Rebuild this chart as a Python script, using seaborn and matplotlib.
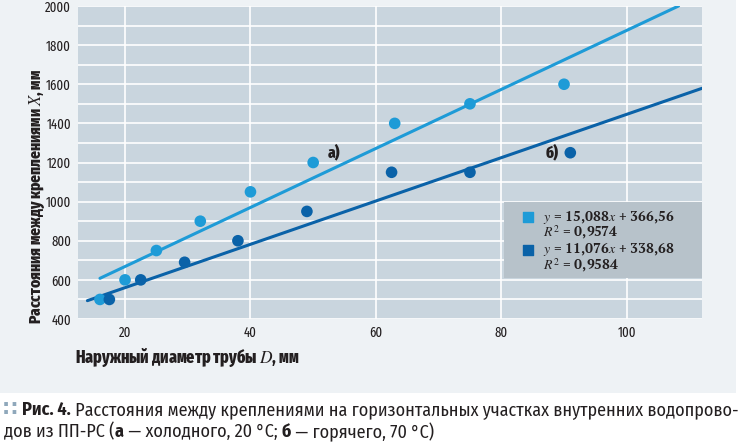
import matplotlib
matplotlib.use("Agg")
import matplotlib.pyplot as plt
from matplotlib import font_manager as fm
import seaborn as sns
import numpy as np
import pandas as pd
from matplotlib.patches import Rectangle

# ---- data ----
d_cold = [16, 20, 25, 32, 40, 50, 63, 75, 90]
x_cold = [500, 600, 750, 900, 1050, 1200, 1400, 1500, 1600]
d_hot = [17.5, 22.5, 29.5, 38, 49, 62.5, 75, 91]
x_hot = [500, 600, 690, 800, 950, 1150, 1150, 1250]
fit_cold = [15.088, 366.56]
fit_hot = [11.076, 338.68]
r2_cold = "0,9574"
r2_hot = "0,9584"
x_ticks = [20, 40, 60, 80, 100]
y_ticks = [400, 600, 800, 1000, 1200, 1400, 1600, 1800, 2000]

LIGHT = "#1e9bd7"
DARK = "#0a62a8"
PLOT_BG = "#c9d5de"
PAGE_BG = "#eef2f5"
TXT = "#231f20"

available = {f.name for f in fm.fontManager.ttflist}


def pick(prefs, default):
    return next((n for n in prefs if n in available), default)


COND = pick(["Fira Sans Condensed", "PT Sans Narrow", "Roboto Condensed",
             "Liberation Sans Narrow"], "DejaVu Sans")
XCOND = pick(["Fira Sans Extra Condensed", "Roboto Condensed", "PT Sans Narrow",
              "Fira Sans Condensed"], COND)
SERIF = pick(["PT Serif", "Liberation Serif", "DejaVu Serif"], "DejaVu Serif")

sns.set_theme(style="white")
plt.rcParams["font.family"] = [COND, "DejaVu Sans"]
plt.rcParams["mathtext.fontset"] = "stix"

fig = plt.figure(figsize=(7.46, 4.47), dpi=100)
fig.patch.set_facecolor("white")
bg = Rectangle((0, 1 - 393 / 447), 736 / 746, 393 / 447,
               transform=fig.transFigure, facecolor=PAGE_BG,
               edgecolor="none", zorder=-10)
fig.patches.append(bg)

ax = fig.add_axes([78 / 746, 1 - 319 / 447, 624 / 746, 313 / 447])
ax.set_zorder(1)
ax.set_facecolor(PLOT_BG)
for s in ax.spines.values():
    s.set_visible(False)

ax.set_xlim(12.5, 112)
ax.set_ylim(400, 2000)
ax.set_xticks(x_ticks)
ax.set_yticks(y_ticks)
ax.set_yticks(np.arange(500, 2000, 200), minor=True)
ax.grid(True, which="both", axis="y", color="white", lw=1.2)
ax.grid(True, which="major", axis="x", color="white", lw=1.2)
ax.set_axisbelow(True)
ax.tick_params(axis="both", which="both", length=0, labelsize=10, colors=TXT, pad=5,
               labelfontfamily=XCOND)

# trend lines
xc = np.linspace(16, (2000 - fit_cold[1]) / fit_cold[0], 50)
xh = np.linspace(14, 112, 50)
sns.lineplot(x=xc, y=fit_cold[0] * xc + fit_cold[1], ax=ax, color=LIGHT, lw=2.2, zorder=2)
sns.lineplot(x=xh, y=fit_hot[0] * xh + fit_hot[1], ax=ax, color=DARK, lw=2.2, zorder=2)

df_c = pd.DataFrame({"D": d_cold, "X": x_cold})
df_h = pd.DataFrame({"D": d_hot, "X": x_hot})
sns.scatterplot(data=df_c, x="D", y="X", ax=ax, color=LIGHT, s=70, edgecolor="none", zorder=3)
sns.scatterplot(data=df_h, x="D", y="X", ax=ax, color=DARK, s=70, edgecolor="none", zorder=3)

ax.set_xlabel("")
ax.set_ylabel("")

ax.text(52.3, 1250, "а)", fontsize=12, fontweight="heavy", color=TXT, va="center",
        family=[XCOND, "DejaVu Sans"])
ax.text(87.0, 1250, "б)", fontsize=12, fontweight="heavy", color=TXT, va="center",
        family=[XCOND, "DejaVu Sans"])

# legend box
lb = Rectangle((0.682, 0.131), 0.318, 0.243, transform=ax.transAxes,
               facecolor="#b7c2ca", edgecolor="none", zorder=4)
ax.add_patch(lb)
rows = [(LIGHT, fit_cold, r2_cold, 0.325, 0.276), (DARK, fit_hot, r2_hot, 0.222, 0.173)]
for col, fit, r2, ye, yr in rows:
    ax.scatter([0.721], [ye], transform=ax.transAxes, marker="s", s=45,
               color=col, zorder=5)
    ax.text(0.745, ye, "$y$ = " + f"{fit[0]:.3f}".replace(".", ",") + "$x$ + "
            + f"{fit[1]:.2f}".replace(".", ","),
            transform=ax.transAxes, fontsize=10, va="center", zorder=5,
            family=[SERIF], fontweight="bold", color=TXT)
    ax.text(0.745, yr, "$R^2$ = " + r2, transform=ax.transAxes,
            fontsize=10, va="center", zorder=5, family=[SERIF],
            fontweight="bold", color=TXT)

# axis labels
fig.text(37 / 746, 1 - 196 / 447, "Расстояния между креплениями $X$, мм", fontsize=12,
         fontweight="heavy", color=TXT, va="center", ha="center", rotation=90,
         family=[XCOND, "DejaVu Sans"])
fig.text(75 / 746, 1 - 357 / 447, "Наружный диаметр трубы $D$, мм", fontsize=12.5,
         fontweight="heavy", color=TXT, va="center", ha="left",
         family=[XCOND, "DejaVu Sans"])

# caption with mixed weights
renderer = fig.canvas.get_renderer()


def run(pieces, x0, y):
    x = x0
    for txt, kw in pieces:
        t = fig.text(x, y, txt, va="center", ha="left", fontsize=13, color=TXT, **kw)
        bb = t.get_window_extent(renderer=renderer)
        x = bb.x1 / fig.bbox.width


fig.text(3 / 746, 1 - 410 / 447, "∷", fontsize=15, color="#8fa8bb",
         va="center", ha="left", family=["DejaVu Sans"], fontweight="bold")
run([("Рис. 4.", dict(fontweight="bold")),
     (" Расстояния между креплениями на горизонтальных участках внутренних водопрово-", {})],
    22 / 746, 1 - 410 / 447)
run([("дов из ПП-РС (", {}), ("а", dict(fontweight="bold")),
     (" — холодного, 20 °C; ", {}), ("б", dict(fontweight="bold")),
     (" — горячего, 70 °C)", {})], 4 / 746, 1 - 432 / 447)

fig.savefig("out.png", dpi=100)
